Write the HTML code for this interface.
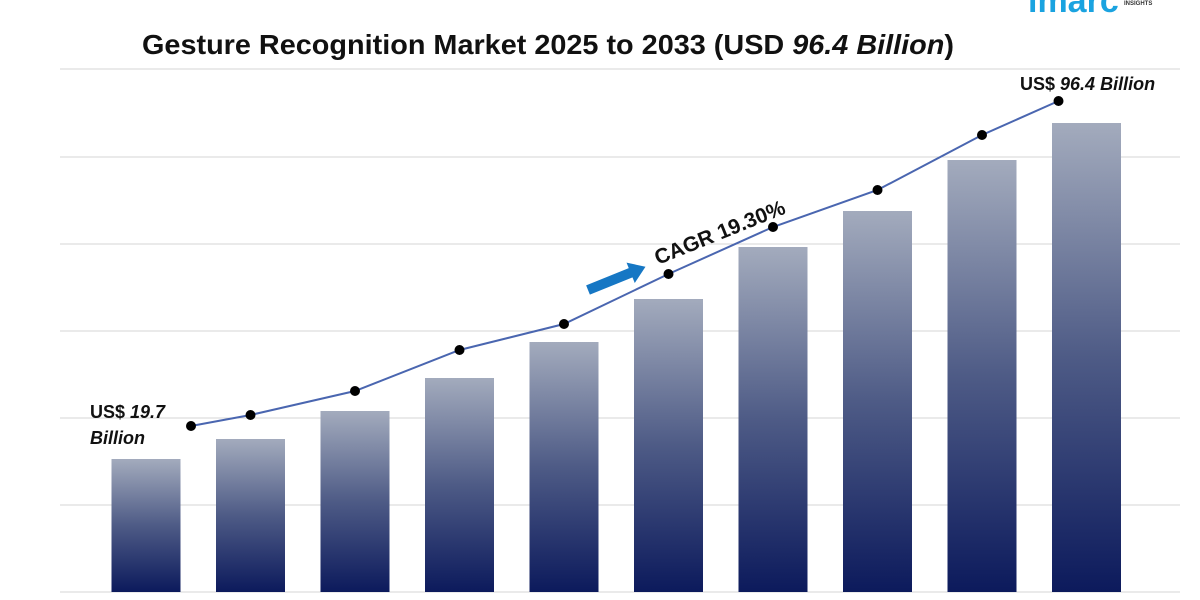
<!DOCTYPE html>
<html><head><meta charset="utf-8"><style>
body{margin:0;background:#fff;font-family:"Liberation Sans",Arial,sans-serif}
svg{display:block}
</style></head><body>
<svg id="c" width="1200" height="600" viewBox="0 0 1200 600">
<defs>
<linearGradient id="bg" x1="0" y1="0" x2="0" y2="1">
<stop offset="0" stop-color="#a3abbd"/><stop offset="0.5" stop-color="#4e5b86"/><stop offset="1" stop-color="#0c1a5c"/>
</linearGradient>
</defs>
<text x="1028" y="12" font-size="34" font-weight="bold" fill="#1aa3e0">imarc</text>
<text x="1124" y="5" font-size="6" font-weight="bold" fill="#333">INSIGHTS</text>
<text x="548" y="54" text-anchor="middle" font-size="28" font-weight="bold" fill="#111" textLength="812" lengthAdjust="spacingAndGlyphs">Gesture Recognition Market 2025 to 2033 (USD <tspan font-style="italic">96.4 Billion</tspan>)</text>
<g id="grid"></g><g id="bars"></g><g id="line"></g>
<text x="90" y="418" font-size="18" font-weight="bold" fill="#111">US$ <tspan font-style="italic">19.7</tspan></text>
<text x="90" y="444" font-size="18" font-weight="bold" font-style="italic" fill="#111">Billion</text>
<text x="1020" y="90" font-size="18" font-weight="bold" fill="#111">US$ <tspan font-style="italic">96.4 Billion</tspan></text>
<g transform="translate(588,290) rotate(-22)">
<rect x="0" y="-5" width="48" height="10" fill="#1677c4"/><polygon points="46,-11 62,0 46,11" fill="#1677c4"/>
</g>
<text x="0" y="0" transform="translate(658,265) rotate(-22)" font-size="21" font-weight="bold" fill="#111">CAGR 19.30%</text>
</svg>
<script>
const years=["2024","2025","2026","2027","2028","2029","2030","2031","2032","2033"];
const barValues=[26.6,30.6,36.2,42.8,50,58.6,69,76.2,86.4,93.8];
const lineValues=[33.2,35.4,40.2,48.4,53.6,63.6,73,80.4,91.4,98.2];
const gridTicks=[0,17.4,34.8,52.2,69.6,87,104.6];
const NS="http://www.w3.org/2000/svg";
const y=v=>592-v*5;
const x=i=>146+i*104.5;
const lineX=i=>i===0?x(i)+45:(i===years.length-1?x(i)-28:x(i));
function mk(t,a,p){const e=document.createElementNS(NS,t);for(const k in a)e.setAttribute(k,a[k]);p.appendChild(e);return e;}
const G=document.getElementById('grid'),B=document.getElementById('bars'),L=document.getElementById('line');
gridTicks.forEach(t=>{const l=mk('line',{x1:60,x2:1180,y1:y(t),y2:y(t),stroke:'#d4d4d4','stroke-width':1},G);

});
barValues.forEach((v,i)=>{const r=mk('rect',{x:x(i)-34.5,y:y(v),width:69,height:v*5,fill:'url(#bg)'},B);

});
const pl=mk('polyline',{points:lineValues.map((v,i)=>lineX(i)+','+y(v)).join(' '),fill:'none',stroke:'#4a66b0','stroke-width':2},L);


lineValues.forEach((v,i)=>{const c=mk('circle',{cx:lineX(i),cy:y(v),r:5,fill:'#000'},L);

});
</script>
</body></html>
